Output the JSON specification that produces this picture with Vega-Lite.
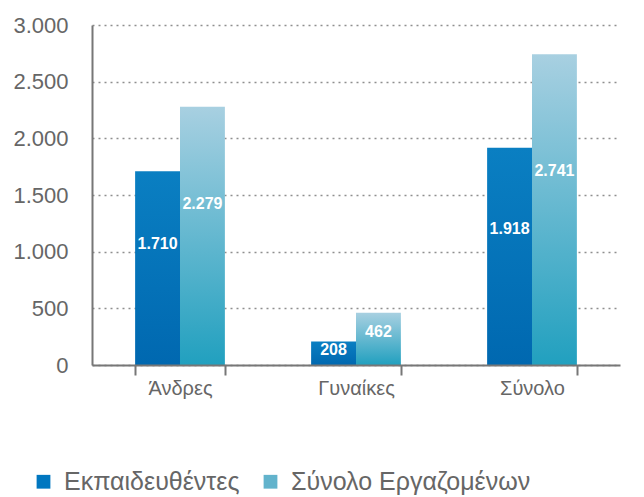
{
  "$schema": "https://vega.github.io/schema/vega-lite/v6.json",
  "width": 528,
  "height": 340,
  "autosize": {"type": "none"},
  "padding": {"left": 92, "top": 25, "right": 24, "bottom": 132},
  "background": "white",
  "config": {"view": {"stroke": null}, "font": "Liberation Sans"},
  "data": {
    "values": [
      {"cat": "Άνδρες", "series": "Εκπαιδευθέντες", "value": 1710},
      {"cat": "Άνδρες", "series": "Σύνολο Εργαζομένων", "value": 2279},
      {"cat": "Γυναίκες", "series": "Εκπαιδευθέντες", "value": 208},
      {"cat": "Γυναίκες", "series": "Σύνολο Εργαζομένων", "value": 462},
      {"cat": "Σύνολο", "series": "Εκπαιδευθέντες", "value": 1918},
      {"cat": "Σύνολο", "series": "Σύνολο Εργαζομένων", "value": 2741}
    ]
  },
  "layer": [
    {
      "layer": [
        {
          "mark": {"type": "bar"},
          "encoding": {
            "x": {
              "field": "cat", "type": "nominal",
              "sort": ["Άνδρες", "Γυναίκες", "Σύνολο"],
              "scale": {"paddingInner": 0.49, "paddingOuter": 0.245},
              "axis": {
                "title": null, "labelAngle": 0, "labelFontSize": 20, "labelColor": "#666666",
                "domainColor": "#777777", "domainWidth": 2, "tickColor": "#777777", "tickWidth": 2,
                "tickSize": 10, "tickBand": "extent", "labelPadding": 3, "grid": false, "zindex": 1
              }
            },
            "xOffset": {"field": "series", "sort": ["Εκπαιδευθέντες", "Σύνολο Εργαζομένων"]},
            "y": {
              "field": "value", "type": "quantitative",
              "scale": {"domain": [0, 3000], "nice": false},
              "axis": {
                "title": null, "values": [0, 500, 1000, 1500, 2000, 2500, 3000],
                "labelExpr": "replace(format(datum.value, ','), ',', '.')",
                "labelFontSize": 22, "labelColor": "#666666", "labelPadding": 24,
                "ticks": false, "domainColor": "#777777", "domainWidth": 2,
                "grid": true, "gridDash": [2, 4], "gridColor": "#8f8f8f", "gridWidth": 1.5
              }
            },
            "fill": {
              "condition": {
                "test": "datum.series === 'Εκπαιδευθέντες'",
                "value": {"gradient": "linear", "x1": 0, "y1": 0, "x2": 0, "y2": 1,
                  "stops": [{"offset": 0, "color": "#0a7fc2"}, {"offset": 1, "color": "#0068b0"}]}
              },
              "value": {"gradient": "linear", "x1": 0, "y1": 0, "x2": 0, "y2": 1,
                "stops": [{"offset": 0, "color": "#a8d0e1"}, {"offset": 1, "color": "#21a0bf"}]}
            }
          }
        },
        {
          "mark": {"type": "bar"},
          "encoding": {
            "x": {"field": "cat", "type": "nominal", "sort": ["Άνδρες", "Γυναίκες", "Σύνολο"]},
            "xOffset": {"field": "series", "sort": ["Εκπαιδευθέντες", "Σύνολο Εργαζομένων"]},
            "y": {"datum": 0, "type": "quantitative"},
            "color": {
              "field": "series", "type": "nominal",
              "scale": {"domain": ["Εκπαιδευθέντες", "Σύνολο Εργαζομένων"], "range": ["#0077c0", "#62b3cc"]},
              "legend": {
                "title": null, "orient": "none", "legendX": -61, "legendY": 444,
                "direction": "horizontal", "symbolType": "square", "symbolSize": 190,
                "symbolStrokeWidth": 0, "labelFontSize": 25, "labelColor": "#666666",
                "labelLimit": 400, "columnPadding": 18, "labelOffset": 8
              }
            }
          }
        }
      ]
    },
    {
      "mark": {
        "type": "text", "color": "white", "fontSize": 16, "fontWeight": "bold",
        "font": "Liberation Sans",
        "align": "center", "baseline": "middle",
        "text": {"expr": "replace(format(datum.value, ','), ',', '.')"}
      },
      "encoding": {
        "x": {"field": "cat", "type": "nominal", "sort": ["Άνδρες", "Γυναίκες", "Σύνολο"]},
        "xOffset": {"field": "series", "sort": ["Εκπαιδευθέντες", "Σύνολο Εργαζομένων"]},
        "y": {
          "field": "value", "type": "quantitative",
          "scale": {"domain": [0, 4800], "nice": false},
          "axis": null
        }
      }
    }
  ],
  "resolve": {"scale": {"y": "independent"}}
}
